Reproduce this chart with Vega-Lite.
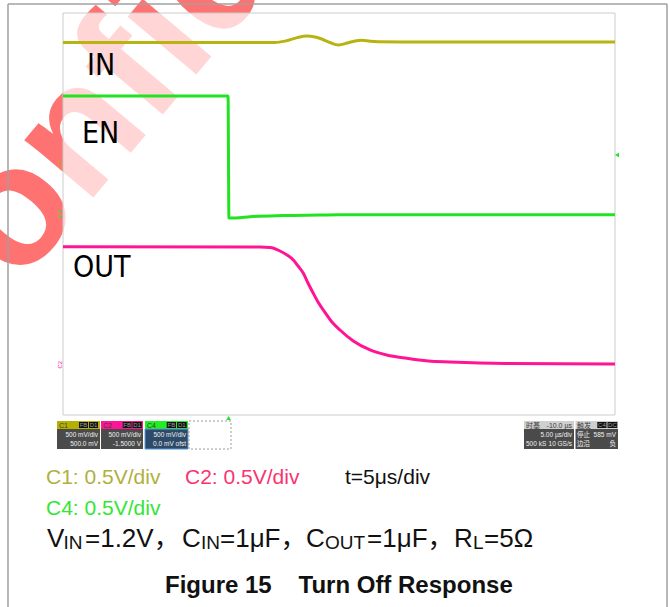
{
  "$schema": "https://vega.github.io/schema/vega-lite/v6.json",
  "width": 552,
  "height": 402,
  "autosize": {"type": "none"},
  "padding": {"left": 63, "top": 13, "right": 54, "bottom": 192},
  "background": "white",
  "config": {"view": {"stroke": null}},
  "datasets": {
    "wm": [{"t": -26.141, "div": -3.303, "label": "Confidential"}],
    "frame": [{"t": -15, "t2": 35, "div": -4, "div2": 4}],
    "gridX": [{"t": -15}, {"t": -10}, {"t": -5}, {"t": 0}, {"t": 5}, {"t": 10}, {"t": 15}, {"t": 20}, {"t": 25}, {"t": 30}, {"t": 35}],
    "gridY": [{"div": -4}, {"div": -3}, {"div": -2}, {"div": -1}, {"div": 0}, {"div": 1}, {"div": 2}, {"div": 3}, {"div": 4}],
    "dotted": [{"div": 2.5}, {"div": -2.5}],
    "ticksX": [{"t": -15}, {"t": -14}, {"t": -13}, {"t": -12}, {"t": -11}, {"t": -10}, {"t": -9}, {"t": -8}, {"t": -7}, {"t": -6}, {"t": -5}, {"t": -4}, {"t": -3}, {"t": -2}, {"t": -1}, {"t": 0}, {"t": 1}, {"t": 2}, {"t": 3}, {"t": 4}, {"t": 5}, {"t": 6}, {"t": 7}, {"t": 8}, {"t": 9}, {"t": 10}, {"t": 11}, {"t": 12}, {"t": 13}, {"t": 14}, {"t": 15}, {"t": 16}, {"t": 17}, {"t": 18}, {"t": 19}, {"t": 20}, {"t": 21}, {"t": 22}, {"t": 23}, {"t": 24}, {"t": 25}, {"t": 26}, {"t": 27}, {"t": 28}, {"t": 29}, {"t": 30}, {"t": 31}, {"t": 32}, {"t": 33}, {"t": 34}, {"t": 35}],
    "ticksY": [{"div": -4}, {"div": -3.8}, {"div": -3.6}, {"div": -3.4}, {"div": -3.2}, {"div": -3}, {"div": -2.8}, {"div": -2.6}, {"div": -2.4}, {"div": -2.2}, {"div": -2}, {"div": -1.8}, {"div": -1.6}, {"div": -1.4}, {"div": -1.2}, {"div": -1}, {"div": -0.8}, {"div": -0.6}, {"div": -0.4}, {"div": -0.2}, {"div": 0}, {"div": 0.2}, {"div": 0.4}, {"div": 0.6}, {"div": 0.8}, {"div": 1}, {"div": 1.2}, {"div": 1.4}, {"div": 1.6}, {"div": 1.8}, {"div": 2}, {"div": 2.2}, {"div": 2.4}, {"div": 2.6}, {"div": 2.8}, {"div": 3}, {"div": 3.2}, {"div": 3.4}, {"div": 3.6}, {"div": 3.8}, {"div": 4}],
    "traces": [
      {"series": "IN", "t": -15, "div": 3.413},
      {"series": "IN", "t": 0, "div": 3.413},
      {"series": "IN", "t": 4.2, "div": 3.413},
      {"series": "IN", "t": 5.11, "div": 3.44},
      {"series": "IN", "t": 6.2, "div": 3.51},
      {"series": "IN", "t": 7.07, "div": 3.542},
      {"series": "IN", "t": 7.83, "div": 3.522},
      {"series": "IN", "t": 8.43, "div": 3.483},
      {"series": "IN", "t": 9.18, "div": 3.413},
      {"series": "IN", "t": 9.94, "div": 3.363},
      {"series": "IN", "t": 10.84, "div": 3.409},
      {"series": "IN", "t": 11.45, "div": 3.443},
      {"series": "IN", "t": 12.06, "div": 3.457},
      {"series": "IN", "t": 12.81, "div": 3.439},
      {"series": "IN", "t": 13.53, "div": 3.429},
      {"series": "IN", "t": 15.68, "div": 3.425},
      {"series": "IN", "t": 35, "div": 3.423},
      {"series": "EN", "t": -15, "div": 2.348},
      {"series": "EN", "t": -0.05, "div": 2.348},
      {"series": "EN", "t": 0.03, "div": -0.08},
      {"series": "EN", "t": 0.63, "div": -0.08},
      {"series": "EN", "t": 1.94, "div": -0.054},
      {"series": "EN", "t": 4.93, "div": -0.03},
      {"series": "EN", "t": 8.28, "div": -0.02},
      {"series": "EN", "t": 10, "div": -0.014},
      {"series": "EN", "t": 35, "div": -0.014},
      {"series": "OUT", "t": -15, "div": -0.651},
      {"series": "OUT", "t": 2.84, "div": -0.657},
      {"series": "OUT", "t": 3.75, "div": -0.667},
      {"series": "OUT", "t": 4.66, "div": -0.736},
      {"series": "OUT", "t": 5.29, "div": -0.816},
      {"series": "OUT", "t": 5.86, "div": -0.915},
      {"series": "OUT", "t": 6.29, "div": -1.035},
      {"series": "OUT", "t": 6.77, "div": -1.18},
      {"series": "OUT", "t": 7.19, "div": -1.373},
      {"series": "OUT", "t": 7.67, "div": -1.578},
      {"series": "OUT", "t": 8.1, "div": -1.751},
      {"series": "OUT", "t": 8.58, "div": -1.91},
      {"series": "OUT", "t": 9.34, "div": -2.143},
      {"series": "OUT", "t": 10.09, "div": -2.308},
      {"series": "OUT", "t": 11.3, "div": -2.527},
      {"series": "OUT", "t": 12.81, "div": -2.706},
      {"series": "OUT", "t": 14.32, "div": -2.806},
      {"series": "OUT", "t": 16.13, "div": -2.872},
      {"series": "OUT", "t": 18.09, "div": -2.925},
      {"series": "OUT", "t": 20.05, "div": -2.945},
      {"series": "OUT", "t": 25.04, "div": -2.975},
      {"series": "OUT", "t": 35, "div": -2.985}
    ],
    "labels": [
      {"t": -12.826, "div": 2.766, "label": "IN"},
      {"t": -13.279, "div": 1.413, "label": "EN"},
      {"t": -14.094, "div": -1.254, "label": "OUT"}
    ],
    "gnd": [
      {"series": "IN", "t": -15.3, "div": 1.0, "label": "C1"},
      {"series": "EN", "t": -15.3, "div": 0.0, "label": "C4"},
      {"series": "OUT", "t": -15.3, "div": -3.0, "label": "C2"}
    ],
    "trigPos": [{"t": 0, "div": -4.06}],
    "trigLvl": [{"t": 35.18, "div": 1.174}],
    "hdrC1": [{"t": -15.543, "t2": -11.649, "div": -4.119, "div2": -4.279}],
    "hdrC2": [{"t": -11.558, "t2": -7.754, "div": -4.119, "div2": -4.279}],
    "hdrC4": [{"t": -7.572, "t2": -3.678, "div": -4.119, "div2": -4.279}],
    "hdrGray": [
      {"t": 26.757, "t2": 31.286, "div": -4.119, "div2": -4.279},
      {"t": 31.422, "t2": 35.272, "div": -4.119, "div2": -4.279}
    ],
    "bodyGray": [
      {"t": -15.543, "t2": -11.649, "div": -4.279, "div2": -4.677},
      {"t": -11.558, "t2": -7.754, "div": -4.279, "div2": -4.677},
      {"t": 26.757, "t2": 31.286, "div": -4.279, "div2": -4.677},
      {"t": 31.422, "t2": 35.272, "div": -4.279, "div2": -4.677}
    ],
    "bodyBlue": [{"t": -7.572, "t2": -3.678, "div": -4.279, "div2": -4.677}],
    "dashBox": [{"t": -3.587, "t2": 0.217, "div": -4.119, "div2": -4.677}],
    "blackBoxes": [
      {"t": -13.551, "t2": -12.736, "div": -4.139, "div2": -4.259},
      {"t": -12.645, "t2": -11.83, "div": -4.139, "div2": -4.259},
      {"t": -9.592, "t2": -8.795, "div": -4.139, "div2": -4.259},
      {"t": -8.705, "t2": -7.871, "div": -4.139, "div2": -4.259},
      {"t": -5.607, "t2": -4.764, "div": -4.139, "div2": -4.259},
      {"t": -4.674, "t2": -3.795, "div": -4.139, "div2": -4.259},
      {"t": 33.397, "t2": 34.23, "div": -4.139, "div2": -4.259},
      {"t": 34.321, "t2": 35.208, "div": -4.139, "div2": -4.259}
    ],
    "blackBoxText": [
      {"t": -13.143, "div": -4.244, "label": "FB"},
      {"t": -12.238, "div": -4.244, "label": "D1"},
      {"t": -9.193, "div": -4.244, "label": "FB"},
      {"t": -8.288, "div": -4.244, "label": "D1"},
      {"t": -5.185, "div": -4.244, "label": "FB"},
      {"t": -4.234, "div": -4.244, "label": "D1"},
      {"t": 33.813, "div": -4.244, "label": "C4"},
      {"t": 34.765, "div": -4.244, "label": "DC"}
    ],
    "hdrText": [
      {"t": -15.362, "div": -4.249, "label": "C1"},
      {"t": -11.377, "div": -4.249, "label": "C2"},
      {"t": -7.391, "div": -4.249, "label": "C4"},
      {"t": 26.938, "div": -4.249, "label": "时基"},
      {"t": 31.558, "div": -4.249, "label": "触发"}
    ],
    "hdrTextRight": [{"t": 31.105, "div": -4.249, "label": "-10.0 µs"}],
    "bodyTextRight": [
      {"t": -11.83, "div": -4.438, "label": "500 mV/div"},
      {"t": -11.83, "div": -4.617, "label": "500.0 mV"},
      {"t": -7.935, "div": -4.438, "label": "500 mV/div"},
      {"t": -7.935, "div": -4.617, "label": "-1.5000 V"},
      {"t": -3.859, "div": -4.438, "label": "500 mV/div"},
      {"t": -3.859, "div": -4.617, "label": "0.0 mV ofst"},
      {"t": 31.105, "div": -4.438, "label": "5.00 µs/div"},
      {"t": 31.105, "div": -4.617, "label": "10 GS/s"},
      {"t": 35.091, "div": -4.438, "label": "585 mV"},
      {"t": 35.091, "div": -4.617, "label": "负"}
    ],
    "bodyTextLeft": [
      {"t": 26.938, "div": -4.617, "label": "500 kS"},
      {"t": 31.558, "div": -4.438, "label": "停止"},
      {"t": 31.558, "div": -4.617, "label": "边沿"}
    ],
    "legC1": [{"t": -16.54, "div": -5.373, "label": "C1: 0.5V/div"}],
    "legC2": [{"t": -3.949, "div": -5.373, "label": "C2: 0.5V/div"}],
    "legC4": [{"t": -16.54, "div": -5.99, "label": "C4: 0.5V/div"}],
    "legT": [{"t": 10.543, "div": -5.373, "label": "t=5μs/div"}],
    "mainText": [
      {"t": -16.449, "div": -6.627, "label": "V"},
      {"t": -13.007, "div": -6.627, "label": "=1.2V，"},
      {"t": -4.221, "div": -6.627, "label": "C"},
      {"t": -0.779, "div": -6.627, "label": "=1μF，"},
      {"t": 7.011, "div": -6.627, "label": "C"},
      {"t": 12.54, "div": -6.627, "label": "=1μF，"},
      {"t": 20.417, "div": -6.627, "label": "R"},
      {"t": 23.134, "div": -6.627, "label": "=5Ω"}
    ],
    "subText": [
      {"t": -14.955, "div": -6.667, "label": "IN"},
      {"t": -2.5, "div": -6.667, "label": "IN"},
      {"t": 8.732, "div": -6.667, "label": "OUT"},
      {"t": 22.138, "div": -6.667, "label": "L"}
    ],
    "title": [
      {"t": -5.761, "div": -7.542, "label": "Figure 15"},
      {"t": 6.332, "div": -7.542, "label": "Turn Off Response"}
    ],
    "borders": [
      {"t": -19.982, "t2": -19.982, "div": 4.179, "div2": -7.821},
      {"t": 39.71, "t2": 39.71, "div": 4.179, "div2": -7.821},
      {"t": -19.982, "t2": 39.71, "div": 4.179, "div2": 4.179}
    ]
  },
  "encoding": {
    "x": {"field": "t", "type": "quantitative", "scale": {"domain": [-15, 35], "nice": false, "zero": false}, "axis": null},
    "y": {"field": "div", "type": "quantitative", "scale": {"domain": [-4, 4], "nice": false, "zero": false}, "axis": null}
  },
  "layer": [
    {
      "data": {"name": "wm"},
      "mark": {"type": "text", "fontSize": 170, "fontWeight": "bold", "angle": 310, "align": "left", "baseline": "alphabetic", "font": "Liberation Sans", "fill": "#ff0000", "opacity": 0.55},
      "encoding": {"text": {"field": "label"}}
    },
    {
      "data": {"name": "frame"},
      "mark": {"type": "rect", "fill": "white", "opacity": 0.7},
      "encoding": {"x2": {"field": "t2"}, "y2": {"field": "div2"}}
    },
    {
      "data": {"name": "gridX"},
      "mark": {"type": "rule", "stroke": "#d2d2d2", "strokeWidth": 1, "strokeDash": [3, 1]},
      "encoding": {"y": {"datum": -4}, "y2": {"datum": 4}}
    },
    {
      "data": {"name": "gridY"},
      "mark": {"type": "rule", "stroke": "#d6d6d6", "strokeWidth": 1},
      "encoding": {"x": {"datum": -15}, "x2": {"datum": 35}}
    },
    {
      "data": {"name": "dotted"},
      "mark": {"type": "rule", "stroke": "#b8b8b8", "strokeWidth": 1, "strokeDash": [1.5, 9.54]},
      "encoding": {"x": {"datum": -15}, "x2": {"datum": 35}}
    },
    {
      "data": {"name": "ticksX"},
      "mark": {"type": "rule", "stroke": "#b8b8b8", "strokeWidth": 1},
      "encoding": {"y": {"datum": -0.04}, "y2": {"datum": 0.04}}
    },
    {
      "data": {"name": "ticksY"},
      "mark": {"type": "rule", "stroke": "#b8b8b8", "strokeWidth": 1},
      "encoding": {"x": {"datum": 9.82}, "x2": {"datum": 10.18}}
    },
    {
      "data": {"name": "frame"},
      "mark": {"type": "rect", "filled": false, "stroke": "#cccccc", "strokeWidth": 1},
      "encoding": {"x2": {"field": "t2"}, "y2": {"field": "div2"}}
    },
    {
      "data": {"name": "traces"},
      "mark": {"type": "line", "strokeWidth": 3, "interpolate": "monotone"},
      "encoding": {
        "color": {"field": "series", "type": "nominal", "scale": {"domain": ["IN", "EN", "OUT"], "range": ["#b9b312", "#22e322", "#ff1493"]}, "legend": null}
      }
    },
    {
      "data": {"name": "labels"},
      "mark": {"type": "text", "fontSize": 30, "align": "left", "baseline": "alphabetic", "font": "Liberation Sans Narrow, DejaVu Sans Condensed, Liberation Sans", "fill": "black"},
      "encoding": {"text": {"field": "label"}}
    },
    {
      "data": {"name": "gnd"},
      "mark": {"type": "text", "fontSize": 6, "angle": 270, "align": "center", "baseline": "middle", "font": "Liberation Sans"},
      "encoding": {"text": {"field": "label"}, "color": {"field": "series", "type": "nominal", "legend": null}}
    },
    {
      "data": {"name": "trigPos"},
      "mark": {"type": "point", "shape": "triangle-up", "filled": true, "size": 22, "fill": "#22e322", "opacity": 1},
      "encoding": {}
    },
    {
      "data": {"name": "trigLvl"},
      "mark": {"type": "point", "shape": "triangle-left", "filled": true, "size": 22, "fill": "#22e322", "opacity": 1},
      "encoding": {}
    },
    {
      "data": {"name": "hdrC1"},
      "mark": {"type": "rect", "fill": "#b5b000"},
      "encoding": {"x2": {"field": "t2"}, "y2": {"field": "div2"}}
    },
    {
      "data": {"name": "hdrC2"},
      "mark": {"type": "rect", "fill": "#ff1493"},
      "encoding": {"x2": {"field": "t2"}, "y2": {"field": "div2"}}
    },
    {
      "data": {"name": "hdrC4"},
      "mark": {"type": "rect", "fill": "#22ee22"},
      "encoding": {"x2": {"field": "t2"}, "y2": {"field": "div2"}}
    },
    {
      "data": {"name": "hdrGray"},
      "mark": {"type": "rect", "fill": "#cfcfcf"},
      "encoding": {"x2": {"field": "t2"}, "y2": {"field": "div2"}}
    },
    {
      "data": {"name": "bodyGray"},
      "mark": {"type": "rect", "fill": "#4a4a4a"},
      "encoding": {"x2": {"field": "t2"}, "y2": {"field": "div2"}}
    },
    {
      "data": {"name": "bodyBlue"},
      "mark": {"type": "rect", "fill": "#2d4b68", "stroke": "#5a9ad8", "strokeWidth": 1},
      "encoding": {"x2": {"field": "t2"}, "y2": {"field": "div2"}}
    },
    {
      "data": {"name": "dashBox"},
      "mark": {"type": "rect", "filled": false, "stroke": "#999999", "strokeWidth": 1, "strokeDash": [2, 2]},
      "encoding": {"x2": {"field": "t2"}, "y2": {"field": "div2"}}
    },
    {
      "data": {"name": "blackBoxes"},
      "mark": {"type": "rect", "fill": "#111111"},
      "encoding": {"x2": {"field": "t2"}, "y2": {"field": "div2"}}
    },
    {
      "data": {"name": "blackBoxText"},
      "mark": {"type": "text", "fontSize": 6, "align": "center", "baseline": "alphabetic", "font": "Liberation Sans", "fill": "#9a9a9a"},
      "encoding": {"text": {"field": "label"}}
    },
    {
      "data": {"name": "hdrText"},
      "mark": {"type": "text", "fontSize": 7, "align": "left", "baseline": "alphabetic", "font": "Liberation Sans, Noto Sans CJK SC", "fill": "#3a3a3a"},
      "encoding": {"text": {"field": "label"}}
    },
    {
      "data": {"name": "hdrTextRight"},
      "mark": {"type": "text", "fontSize": 7, "align": "right", "baseline": "alphabetic", "font": "Liberation Sans", "fill": "#3a3a3a"},
      "encoding": {"text": {"field": "label"}}
    },
    {
      "data": {"name": "bodyTextRight"},
      "mark": {"type": "text", "fontSize": 6.5, "align": "right", "baseline": "alphabetic", "font": "Liberation Sans, Noto Sans CJK SC", "fill": "#f0f0f0"},
      "encoding": {"text": {"field": "label"}}
    },
    {
      "data": {"name": "bodyTextLeft"},
      "mark": {"type": "text", "fontSize": 6.5, "align": "left", "baseline": "alphabetic", "font": "Liberation Sans, Noto Sans CJK SC", "fill": "#f0f0f0"},
      "encoding": {"text": {"field": "label"}}
    },
    {
      "data": {"name": "legC1"},
      "mark": {"type": "text", "fontSize": 21, "align": "left", "baseline": "alphabetic", "font": "Liberation Sans", "fill": "#b0b040"},
      "encoding": {"text": {"field": "label"}}
    },
    {
      "data": {"name": "legC2"},
      "mark": {"type": "text", "fontSize": 21, "align": "left", "baseline": "alphabetic", "font": "Liberation Sans", "fill": "#fa3370"},
      "encoding": {"text": {"field": "label"}}
    },
    {
      "data": {"name": "legC4"},
      "mark": {"type": "text", "fontSize": 21, "align": "left", "baseline": "alphabetic", "font": "Liberation Sans", "fill": "#33e633"},
      "encoding": {"text": {"field": "label"}}
    },
    {
      "data": {"name": "legT"},
      "mark": {"type": "text", "fontSize": 21, "align": "left", "baseline": "alphabetic", "font": "Liberation Sans", "fill": "#111111"},
      "encoding": {"text": {"field": "label"}}
    },
    {
      "data": {"name": "mainText"},
      "mark": {"type": "text", "fontSize": 26, "align": "left", "baseline": "alphabetic", "font": "Liberation Sans, Noto Sans CJK SC", "fill": "#111111"},
      "encoding": {"text": {"field": "label"}}
    },
    {
      "data": {"name": "subText"},
      "mark": {"type": "text", "fontSize": 19, "align": "left", "baseline": "alphabetic", "font": "Liberation Sans", "fill": "#111111"},
      "encoding": {"text": {"field": "label"}}
    },
    {
      "data": {"name": "title"},
      "mark": {"type": "text", "fontSize": 24, "fontWeight": "bold", "align": "left", "baseline": "alphabetic", "font": "Liberation Sans", "fill": "#111111"},
      "encoding": {"text": {"field": "label"}}
    },
    {
      "data": {"name": "borders"},
      "mark": {"type": "rule", "stroke": "#a0a0a0", "strokeWidth": 1.5},
      "encoding": {"x2": {"field": "t2"}, "y2": {"field": "div2"}}
    }
  ]
}
